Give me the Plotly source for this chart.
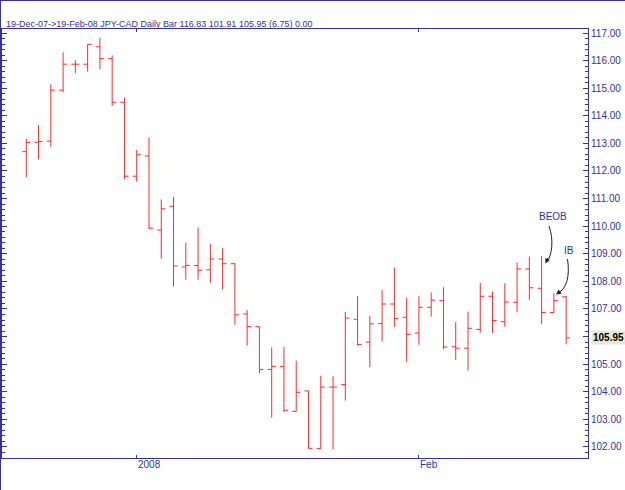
import pandas as pd
import plotly.graph_objects as go

# ---- data ----
dates = [d.strftime("%Y-%m-%d") for d in pd.bdate_range("2007-12-19", "2008-02-19")]
opens = [112.70, 113.04, 113.08, 114.93, 115.87, 115.87, 116.50, 116.07, 114.49, 111.81,
         112.54, 109.86, 110.72, 108.52, 108.57, 108.42, 108.81, 108.64, 106.82, 106.36,
         104.81, 104.92, 103.29, 104.03, 101.94, 104.17, 104.26, 106.63, 105.80, 106.47,
         107.18, 106.70, 106.13, 107.06, 107.30, 105.63, 105.58, 106.26, 107.46, 106.54,
         107.24, 108.45, 107.75, 106.87, 107.44]
highs = [113.16, 113.66, 115.14, 116.30, 116.02, 116.59, 116.83, 116.19, 114.66, 112.76,
         113.22, 110.97, 111.06, 109.40, 109.95, 109.36, 109.21, 108.66, 106.96, 106.36,
         105.61, 105.63, 105.13, 104.04, 104.58, 104.56, 106.89, 107.47, 106.75, 107.69,
         108.50, 107.41, 107.47, 107.60, 107.79, 106.53, 106.90, 107.94, 107.63, 107.93,
         108.68, 108.90, 108.92, 107.57, 107.47]
lows = [111.77, 112.42, 112.88, 114.85, 115.54, 115.60, 115.68, 114.36, 111.71, 111.61,
        109.90, 108.82, 107.81, 108.06, 108.06, 107.95, 107.70, 106.43, 105.67, 104.67,
        103.06, 103.26, 103.29, 101.95, 101.94, 101.91, 103.68, 105.67, 104.89, 105.82,
        106.35, 105.08, 105.70, 106.72, 105.54, 105.16, 104.76, 106.14, 106.13, 106.36,
        106.88, 107.33, 106.45, 106.87, 105.72]
closes = [113.03, 113.07, 114.93, 115.87, 115.87, 116.59, 116.07, 114.49, 111.81, 112.59,
          109.93, 110.63, 108.56, 108.58, 108.40, 108.81, 108.64, 106.79, 106.36, 104.81,
          104.92, 103.33, 103.98, 101.95, 104.17, 104.17, 106.67, 105.71, 106.46, 107.18,
          106.65, 106.08, 107.06, 107.32, 105.62, 105.58, 106.30, 107.46, 106.58, 107.25,
          108.45, 107.77, 106.87, 107.30, 105.95]
x_tick_dates = ["2008-01-01", "2008-02-01"]
x_tick_labels = ["2008", "Feb"]
y_tick_values = list(range(102, 118))
title_text = "19-Dec-07->19-Feb-08 JPY-CAD Daily Bar 116.83 101.91 105.95 (6.75) 0.00"
last_label = "105.95"
notes = ["BEOB", "IB"]

# ---- layout constants ----
W, H = 625, 490
ML, MR, MT, MB = 2, 37, 29, 32
PW, PH = W - ML - MR, H - MT - MB
XR = [-1.98, 45.78]
YR = [101.60, 117.145]
BLUE = "#333399"
FONT = "Arial, Liberation Sans, sans-serif"

xs = list(range(len(dates)))
tickpos = [dates.index(d) for d in x_tick_dates]
# the y label hidden behind the last-price box
y_tick_text = ["" if abs(v - closes[-1]) < 0.5 else f"{v:.2f}" for v in y_tick_values]


def dx(px):
    return XR[0] + (px - ML) / PW * (XR[1] - XR[0])


def dy(py):
    return YR[1] - (py - MT) / PH * (YR[1] - YR[0])


def pxp(px):
    return (px - ML) / PW


def pyp(py):
    return (MT + PH - py) / PH


fig = go.Figure()
fig.add_trace(go.Ohlc(
    x=xs, open=opens, high=highs, low=lows, close=closes,
    increasing=dict(line=dict(color="#ff2a2a", width=1)),
    decreasing=dict(line=dict(color="#ff2a2a", width=1)),
    tickwidth=0.33, showlegend=False, hoverinfo="skip",
))

annotations = []
# title
annotations.append(dict(text=title_text, xref="paper", yref="paper",
                        x=pxp(4), y=pyp(23.5), xanchor="left", yanchor="middle",
                        showarrow=False, font=dict(family=FONT, size=9, color=BLUE)))
# x tick labels (left aligned at tick)
for p, lab in zip(tickpos, x_tick_labels):
    annotations.append(dict(text=lab, x=p, xref="x", yref="paper", y=pyp(464),
                            xanchor="left", yanchor="middle", xshift=-1, showarrow=False,
                            font=dict(family=FONT, size=10, color=BLUE)))
# last price label
annotations.append(dict(text="<b>" + last_label + "</b>", xref="paper", yref="y",
                        x=1, y=closes[-1], xanchor="left", yanchor="middle", xshift=3,
                        showarrow=False, bgcolor="#ebe7d6", borderpad=1,
                        font=dict(family=FONT, size=10, color="#000000")))
# note texts
annotations.append(dict(text=notes[0], x=dx(553), y=dy(216), showarrow=False,
                        font=dict(family=FONT, size=10, color=BLUE)))
annotations.append(dict(text=notes[1], x=dx(569), y=dy(250), showarrow=False,
                        font=dict(family=FONT, size=10, color=BLUE)))
# arrow heads
annotations.append(dict(text="", x=dx(545.5), y=dy(263.5), ax=3, ay=-7, showarrow=True,
                        arrowhead=2, arrowsize=1, arrowwidth=1, arrowcolor="#222222"))
annotations.append(dict(text="", x=dx(556), y=dy(294.5), ax=7, ay=-5, showarrow=True,
                        arrowhead=2, arrowsize=1, arrowwidth=1, arrowcolor="#222222"))


def path(pts):
    (x0, y0), (x1, y1), (x2, y2), (x3, y3) = pts
    return (f"M {dx(x0)},{dy(y0)} C {dx(x1)},{dy(y1)} {dx(x2)},{dy(y2)} {dx(x3)},{dy(y3)}")


shapes = [
    dict(type="path", xref="x", yref="y",
         path=path([(549, 226), (554, 240), (552, 255), (547, 262)]),
         line=dict(color="#222222", width=1)),
    dict(type="path", xref="x", yref="y",
         path=path([(567.5, 259), (570, 276), (567, 288), (558, 293.5)]),
         line=dict(color="#222222", width=1)),
    # outer image border (top & left)
    dict(type="line", xref="paper", yref="paper", x0=pxp(0), x1=pxp(W), y0=pyp(0.5), y1=pyp(0.5),
         line=dict(color=BLUE, width=1)),
    dict(type="line", xref="paper", yref="paper", x0=pxp(0.5), x1=pxp(0.5), y0=pyp(0), y1=pyp(H),
         line=dict(color=BLUE, width=1)),
]

fig.update_layout(
    width=W, height=H,
    margin=dict(l=ML, r=MR, t=MT, b=MB, autoexpand=False),
    paper_bgcolor="white", plot_bgcolor="white",
    font=dict(family=FONT, size=10, color=BLUE),
    annotations=annotations, shapes=shapes,
    xaxis=dict(range=XR, showgrid=False, zeroline=False, rangeslider=dict(visible=False),
               tickvals=tickpos, ticktext=["", ""], ticks="inside", ticklen=3,
               tickcolor=BLUE, showline=True, linecolor=BLUE, linewidth=1, mirror="ticks",
               fixedrange=True),
    yaxis=dict(range=YR, side="right", showgrid=False, zeroline=False,
               tickvals=y_tick_values, ticktext=y_tick_text, ticks="inside", ticklen=5,
               tickcolor=BLUE, showline=True, linecolor=BLUE, linewidth=1, mirror="ticks",
               tickfont=dict(family=FONT, size=10, color=BLUE), automargin=False,
               minor=dict(dtick=0.2, tick0=102, ticks="inside", ticklen=3, tickcolor=BLUE,
                          showgrid=False),
               fixedrange=True),
)

fig.write_html("out.html")
